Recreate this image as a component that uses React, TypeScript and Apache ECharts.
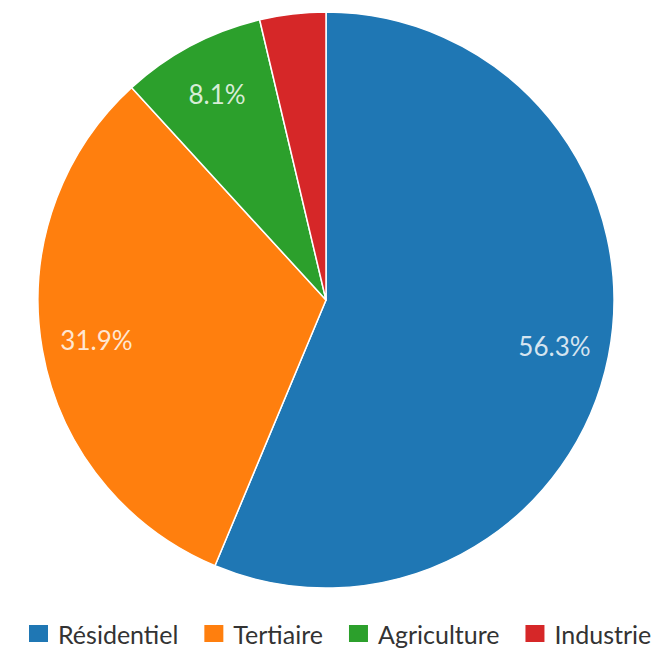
import React, { useEffect, useRef } from "react";
import * as echarts from "echarts";

const categories = ["Résidentiel", "Tertiaire", "Agriculture", "Industrie"];
const values = [56.3, 31.9, 8.1, 3.7];
const colors = ["#1f77b4", "#ff7f0e", "#2ca02c", "#d62728"];
const showLabel = [true, true, true, false];

export default function App() {
  const ref = useRef<HTMLDivElement>(null);
  useEffect(() => {
    if (!ref.current) return;
    const chart = echarts.init(ref.current, undefined, { renderer: "svg" });
    const data = categories.map((name, i) => ({
      name,
      value: values[i],
      itemStyle: { color: colors[i] },
    }));
    chart.setOption({
      animation: false,
      color: colors,
      legend: {
        data: categories,
        top: 621,
        left: 27,
        padding: 0,
        itemWidth: 21,
        itemHeight: 19,
        itemGap: 24,
        icon: "rect",
        textStyle: { fontFamily: "Lato", fontSize: 25, color: "#333", padding: [0, 0, 0, 4] },
      },
      series: [
        {
          type: "pie",
          center: [326, 300],
          radius: [0, 288],
          startAngle: 90,
          clockwise: true,
          data,
          label: { show: false },
          labelLine: { show: false },
          itemStyle: { borderColor: "#fff", borderWidth: 1.5 },
          emphasis: { disabled: true },
        },
        {
          type: "pie",
          center: [326, 300],
          radius: [172, 288],
          startAngle: 90,
          clockwise: true,
          silent: true,
          legendHoverLink: false,
          data: categories.map((name, i) => ({
            name,
            value: values[i],
            itemStyle: { color: "rgba(0,0,0,0)" },
            label: { show: showLabel[i] },
          })),
          itemStyle: { borderWidth: 0 },
          label: {
            position: "inside",
            formatter: (p: any) => p.value.toFixed(1) + "%",
            fontFamily: "Lato",
            fontSize: 26,
            color: "rgba(255,255,255,0.82)",
          },
          labelLine: { show: false },
          emphasis: { disabled: true },
        },
      ],
    });
    return () => chart.dispose();
  }, []);
  return (
    <div
      ref={ref}
      style={{ position: "fixed", left: 0, top: 0, width: 655, height: 649, background: "#fff" }}
    />
  );
}
